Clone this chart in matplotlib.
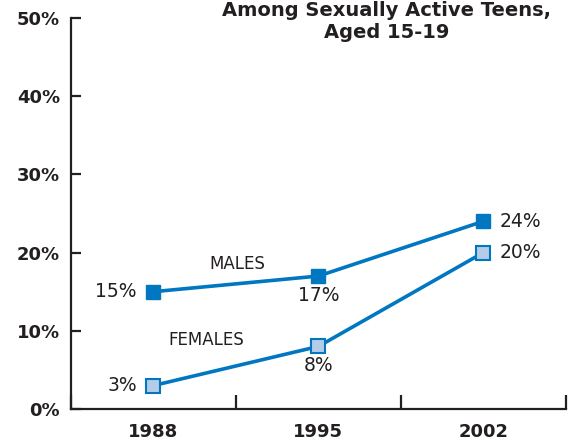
import numpy as np
import matplotlib.pyplot as plt

plt.rcParams["font.family"] = ["DejaVu Sans"]

years = ["1988", "1995", "2002"]
males = [15, 17, 24]
females = [3, 8, 20]
y_ticks = [0, 10, 20, 30, 40, 50]

blue = "#0077c0"
light = "#b5cce8"
ink = "#231f20"

fig = plt.figure(figsize=(5.74, 4.42), dpi=100)
ax = fig.add_axes([0.1237, 0.0747, 0.862, 0.8846])

x = np.arange(len(years))
ax.plot(x, males, color=blue, lw=2.6, marker="s", ms=10, mfc=blue, mec=blue, zorder=3, clip_on=False)
ax.plot(x, females, color=blue, lw=2.6, marker="s", ms=10, mfc=light, mec=blue, mew=1.5, zorder=3, clip_on=False)

ax.set_xlim(-0.5, 2.5)
ax.set_ylim(0, 50)

# 数值标签
fs = 13.5
ax.annotate(f"{males[0]}%", (x[0], males[0]), xytext=(-12, 0), textcoords="offset points",
            ha="right", va="center", fontsize=fs, color=ink)
ax.annotate(f"{males[1]}%", (x[1], males[1]), xytext=(0, -7), textcoords="offset points",
            ha="center", va="top", fontsize=fs, color=ink)
ax.annotate(f"{males[2]}%", (x[2], males[2]), xytext=(12, 0), textcoords="offset points",
            ha="left", va="center", fontsize=fs, color=ink)
ax.annotate(f"{females[0]}%", (x[0], females[0]), xytext=(-12, 0), textcoords="offset points",
            ha="right", va="center", fontsize=fs, color=ink)
ax.annotate(f"{females[1]}%", (x[1], females[1]), xytext=(0, -7), textcoords="offset points",
            ha="center", va="top", fontsize=fs, color=ink)
ax.annotate(f"{females[2]}%", (x[2], females[2]), xytext=(12, 0), textcoords="offset points",
            ha="left", va="center", fontsize=fs, color=ink)

ax.text(0.51, 18.6, "MALES", ha="center", va="center", fontsize=12, color=ink)
ax.text(0.32, 8.8, "FEMALES", ha="center", va="center", fontsize=12, color=ink)

fig.text(0.674, 0.997, "Among Sexually Active Teens,\nAged 15-19",
         ha="center", va="top", fontsize=14, fontweight="heavy", color=ink, linespacing=1.15)

# 坐标轴样式
for s in ["top", "right"]:
    ax.spines[s].set_visible(False)
for s in ["left", "bottom"]:
    ax.spines[s].set_color(ink)
    ax.spines[s].set_linewidth(1.6)

ax.set_yticks(y_ticks)
ax.set_yticklabels([f"{v}%" for v in y_ticks], fontsize=13, fontweight="bold", color=ink)
ax.tick_params(axis="y", direction="in", length=7, width=1.6, color=ink, pad=8)

ax.set_xticks(x)
ax.set_xticklabels(years, fontsize=13, fontweight="bold", color=ink)
ax.tick_params(axis="x", which="major", length=0, pad=10)
ax.set_xticks([-0.5, 0.5, 1.5, 2.5], minor=True)
ax.tick_params(axis="x", which="minor", direction="in", length=10, width=1.6, color=ink)

fig.savefig("out.png", dpi=100)
